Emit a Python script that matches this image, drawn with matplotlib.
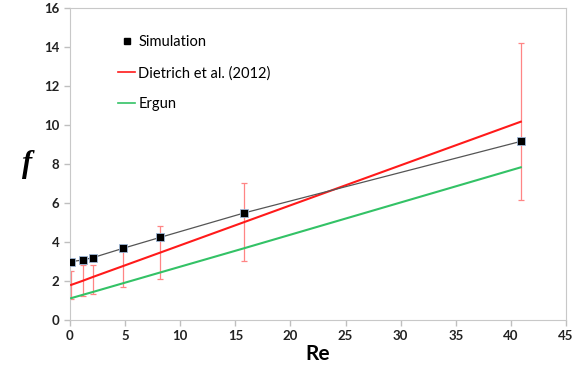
import matplotlib
matplotlib.use("Agg")
import matplotlib.pyplot as plt
from matplotlib.lines import Line2D

# data
re_sim = [0.1, 1.15, 2.09, 4.78, 8.2, 15.8, 40.9]
f_sim = [2.99, 3.08, 3.20, 3.67, 4.24, 5.49, 9.16]
f_dietrich = [1.80, 2.01, 2.21, 2.76, 3.46, 5.02, 10.17]
err_low = [1.10, 1.23, 1.32, 1.68, 2.09, 3.03, 6.14]
err_high = [2.53, 2.80, 2.80, 3.54, 4.82, 7.01, 14.22]
f_ergun = [1.12, 1.29, 1.44, 1.88, 2.44, 3.68, 7.83]

xticks = list(range(0, 50, 5))
yticks = list(range(0, 18, 2))

plt.rcParams["font.family"] = ["Lato", "DejaVu Sans"]

fig = plt.figure(figsize=(5.86, 3.69), dpi=100)
ax = fig.add_axes([70 / 586, 1 - 320 / 369, 496 / 586, 312 / 369])

yerr = [[d - lo for d, lo in zip(f_dietrich, err_low)],
        [hi - d for d, hi in zip(f_dietrich, err_high)]]
ax.errorbar(re_sim, f_dietrich, yerr=yerr, fmt="none", ecolor="#ff8585",
            elinewidth=0.9, capsize=2, capthick=0.9, zorder=2)
ax.plot(re_sim, f_dietrich, color="#ff1a1a", lw=1.5, zorder=3)
ax.plot(re_sim, f_ergun, color="#33c266", lw=1.5, zorder=3)
ax.plot(re_sim, f_sim, color="#555555", lw=0.9, zorder=4)
ax.plot(re_sim, f_sim, ls="none", marker="s", ms=6, mfc="black",
        mec="#9fb8d8", mew=0.6, zorder=5)

ax.set_xlim(0, 45)
ax.set_ylim(0, 16)
ax.set_xticks(xticks)
ax.set_yticks(yticks)
for lbl in ax.get_xticklabels() + ax.get_yticklabels():
    lbl.set_fontweight("bold")
    lbl.set_fontsize(9.5)
    lbl.set_color("#222222")
ax.tick_params(direction="out", length=4, color="#bfbfbf", width=1)
for s in ax.spines.values():
    s.set_color("#c8c8c8")

ax.set_xlabel("Re", fontsize=15, fontweight="bold", labelpad=1)
ax.set_ylabel("f", fontsize=22, fontweight="bold", style="italic",
              family=["Liberation Serif"], labelpad=12, rotation=0, va="center")

handles = [
    Line2D([], [], ls="none", marker="s", ms=5, mfc="black", mec="black"),
    Line2D([], [], color="#ff1a1a", lw=1.2),
    Line2D([], [], color="#33c266", lw=1.2),
]
labels = ["Simulation", "Dietrich et al. (2012)", "Ergun"]
ax.legend(handles, labels, loc="upper left", bbox_to_anchor=(0.07, 0.955),
          frameon=False, fontsize=10.5, labelspacing=1.15, handlelength=1.2,
          handletextpad=0.2)

fig.savefig("out.png", dpi=100)
